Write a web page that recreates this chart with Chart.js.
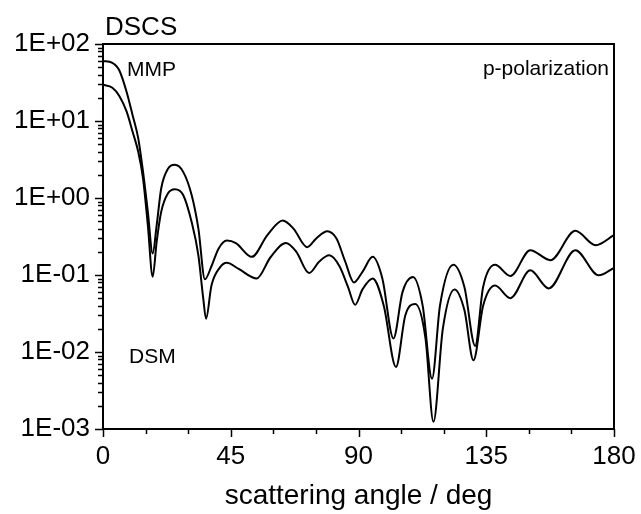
<!DOCTYPE html>
<html lang="en">
<head>
    <meta charset="UTF-8">
    <title>DSCS p-polarization</title>
    <style>
        body {
            margin: 0;
            padding: 0;
            background: #fff;
            font-family: "Liberation Sans", Arial, sans-serif;
        }

        #wrap {
            width: 641px;
            height: 514px;
        }
    </style>
</head>
<body>
<div id="wrap">
    <canvas id="dscs"></canvas>
</div>

<script src="https://cdn.jsdelivr.net/npm/chart.js"></script>
<script>
    // scattering angle (deg) and DSCS values
    var mmpAngle = [0, 3.3, 5.8, 8.3, 10.4, 12.4, 14.1, 15.8, 17.5, 18.9, 20.5, 22.9, 25.3, 28.2, 31.2, 33.6, 35.9, 38.2, 40.7, 43.6,
        46.8, 52.4, 57.9, 63.3, 67.1, 71.9, 75.2, 79.0, 82.2, 85.3, 88.4, 91.4, 95.0, 98.4, 102.3, 105.5, 109.2, 112.6, 115.9, 118.7,
        123.4, 127.3, 131.1, 133.9, 138.1, 143.5, 150.5, 157.6, 166.4, 173.5, 180];
    var mmpValue = [60, 57, 45, 24, 12, 6, 2.2, 0.66, 0.19, 0.44, 1.33, 2.4, 2.7, 2.2, 1.1, 0.4, 0.088, 0.13, 0.22, 0.28,
        0.26, 0.172, 0.33, 0.51, 0.4, 0.23, 0.3, 0.37, 0.3, 0.15, 0.08, 0.11, 0.172, 0.09, 0.015, 0.06, 0.094, 0.04, 0.0045, 0.04,
        0.136, 0.07, 0.012, 0.07, 0.136, 0.097, 0.21, 0.156, 0.375, 0.244, 0.33];

    var dsmAngle = [0, 3.3, 5.8, 8.3, 10.4, 12.4, 14.1, 15.8, 17.5, 18.9, 20.5, 22.9, 25.3, 28.2, 31.2, 33.6, 35.3, 36.3, 38.2, 41.1,
        43.6, 47.8, 54.1, 59.0, 64.4, 68.1, 72.6, 76.2, 79.7, 83.3, 86.3, 88.8, 91.4, 95.0, 98.9, 103.2, 106.5, 110.0, 113.6, 116.4,
        119.7, 123.8, 127.3, 130.5, 133.9, 138.1, 143.5, 150.5, 157.0, 166.4, 174.6, 180];
    var dsmValue = [29.5, 27, 21, 13.3, 7.3, 4, 1.8, 0.44, 0.095, 0.27, 0.66, 1.15, 1.3, 1.1, 0.49, 0.18, 0.05, 0.027, 0.073, 0.124,
        0.144, 0.12, 0.09, 0.17, 0.26, 0.2, 0.106, 0.15, 0.18, 0.13, 0.07, 0.041, 0.065, 0.09, 0.04, 0.0064, 0.03, 0.042, 0.015, 0.00124,
        0.02, 0.065, 0.035, 0.0078, 0.04, 0.073, 0.05, 0.115, 0.067, 0.21, 0.099, 0.124];

    var xTicks = [0, 45, 90, 135, 180];
    var yDecades = [1e-3, 1e-2, 1e-1, 1e0, 1e1, 1e2];

    function toPoints(xs, ys) {
        return xs.map(function (x, i) {
            return {x: x, y: ys[i]};
        });
    }

    function sciLabel(v) {
        var e = Math.round(Math.log10(v));
        return '1E' + (e < 0 ? '-' : '+') + String(Math.abs(e)).padStart(2, '0');
    }

    var font = '"Liberation Sans", Arial, sans-serif';

    // frame, tick marks and the text labels inside the plot
    var decor = {
        id: 'decor',
        afterDraw: function (chart) {
            var ctx = chart.ctx;
            var a = chart.chartArea;
            var xs = chart.scales.x;
            var ys = chart.scales.y;
            ctx.save();
            ctx.strokeStyle = '#000';
            ctx.lineWidth = 2;
            ctx.strokeRect(a.left, a.top, a.right - a.left, a.bottom - a.top);

            ctx.lineWidth = 1.5;
            ctx.beginPath();
            for (var d = 0; d <= 180; d += 15) {
                var px = Math.round(xs.getPixelForValue(d)) + 0.5;
                var len = xTicks.indexOf(d) >= 0 ? 8 : 5;
                ctx.moveTo(px, a.bottom);
                ctx.lineTo(px, a.bottom + len);
            }
            for (var e = -3; e <= 2; e++) {
                for (var k = 1; k <= 9; k++) {
                    var v = k * Math.pow(10, e);
                    if (v > 100.0001) break;
                    var py = Math.round(ys.getPixelForValue(v)) + 0.5;
                    var l = k === 1 ? 8 : 5;
                    ctx.moveTo(a.left, py);
                    ctx.lineTo(a.left - l, py);
                }
            }
            ctx.stroke();

            ctx.fillStyle = '#000';
            ctx.textBaseline = 'alphabetic';
            ctx.font = '26px ' + font;
            ctx.textAlign = 'left';
            ctx.fillText('DSCS', a.left + 2, 35);
            ctx.font = '21px ' + font;
            ctx.fillText('MMP', a.left + 24, 76);
            ctx.fillText('DSM', a.left + 26, 363);
            ctx.textAlign = 'right';
            ctx.fillText('p-polarization', a.right - 5, 75);
            ctx.restore();
        }
    };

    var ctx = document.getElementById('dscs').getContext('2d');
    var chart = new Chart(ctx, {
        type: 'line',
        data: {
            datasets: [{
                label: 'MMP',
                data: toPoints(mmpAngle, mmpValue),
                borderColor: '#000',
                borderWidth: 2,
                pointRadius: 0,
                cubicInterpolationMode: 'monotone',
                fill: false
            }, {
                label: 'DSM',
                data: toPoints(dsmAngle, dsmValue),
                borderColor: '#000',
                borderWidth: 2,
                pointRadius: 0,
                cubicInterpolationMode: 'monotone',
                fill: false
            }]
        },
        options: {
            responsive: true,
            maintainAspectRatio: false,
            animation: false,
            events: [],
            layout: {
                padding: {left: 0, right: 27, top: 44, bottom: 0}
            },
            plugins: {
                legend: {display: false},
                tooltip: {enabled: false}
            },
            scales: {
                x: {
                    type: 'linear',
                    min: 0,
                    max: 180,
                    afterFit: function (s) {
                        s.height = 85;
                        s.paddingLeft = 0;
                        s.paddingRight = 0;
                    },
                    grid: {display: false, drawTicks: false},
                    border: {display: false},
                    ticks: {
                        stepSize: 15,
                        autoSkip: false,
                        maxRotation: 0,
                        padding: 12,
                        color: '#000',
                        font: {family: font, size: 26},
                        callback: function (v) {
                            return xTicks.indexOf(v) >= 0 ? String(v) : '';
                        }
                    },
                    title: {
                        display: true,
                        text: 'scattering angle / deg',
                        color: '#000',
                        font: {family: font, size: 28},
                        padding: {top: 0, bottom: 1}
                    }
                },
                y: {
                    type: 'logarithmic',
                    min: 1e-3,
                    max: 1e2,
                    afterFit: function (s) {
                        s.width = 103;
                        s.paddingTop = 0;
                        s.paddingBottom = 0;
                    },
                    afterBuildTicks: function (s) {
                        s.ticks = yDecades.map(function (v) {
                            return {value: v};
                        });
                    },
                    grid: {display: false, drawTicks: false},
                    border: {display: false},
                    ticks: {
                        autoSkip: false,
                        padding: 13,
                        color: '#000',
                        font: {family: font, size: 26},
                        callback: function (v) {
                            return sciLabel(v);
                        }
                    }
                }
            }
        },
        plugins: [decor]
    });
</script>
</body>
</html>
